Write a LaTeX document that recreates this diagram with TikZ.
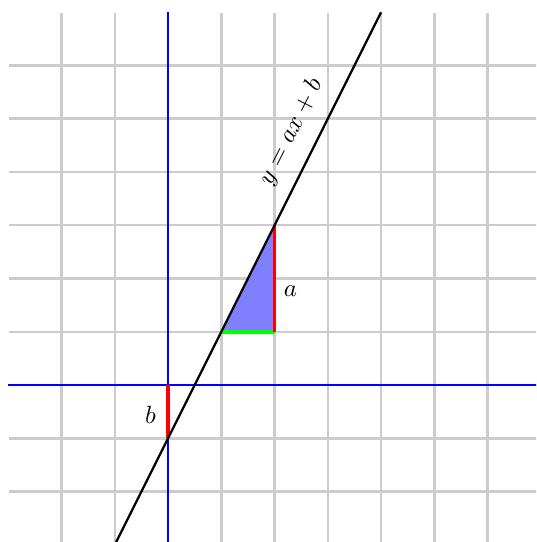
\documentclass[tikz,border=0pt]{standalone}
\begin{document}
\begin{tikzpicture}[x=0.75cm,y=0.75cm,
  gridline/.style={draw=gray!40,line width=1pt},
  axis/.style={draw=blue,line width=0.9pt},
  fn/.style={draw=black,line width=0.9pt},
  mark a/.style={draw=red,line width=1.5pt},
  mark run/.style={draw=green,line width=1.4pt}]
\useasboundingbox (-3.155,-2.948) rectangle (6.911,7.230);
\clip (-3.155,-2.948) rectangle (6.911,7.230);
\draw[gridline,step=0.75cm] (-2.99,-2.99) grid (6.99,6.99);
\coordinate (O) at (0,0);
\coordinate (B) at (0,-1);
\coordinate (P) at (1,1);
\coordinate (Q) at (2,1);
\coordinate (R) at (2,3);
\coordinate (L0) at (-1,-3);
\coordinate (L1) at (4,7);
\coordinate (XL) at (-3,0);
\coordinate (XR) at (7,0);
\coordinate (YB) at (0,-3);
\coordinate (YT) at (0,7);
\fill[blue!50] (P) -- (Q) -- (R) -- cycle;
\draw[axis] (XL) -- (XR);
\draw[axis] (YB) -- (YT);
\draw[mark run] (P) -- (Q);
\draw[mark a] (Q) -- (R);
\draw[mark a] (O) -- (B);
\draw[fn] (L0) -- (L1);
\node (la) at (2.3,1.76) {$a$};
\node (lb) at (-0.33,-0.56) {$b$};
\node[rotate=63.43] (lf) at (2.31,4.75) {$y=ax+b$};
\end{tikzpicture}
\end{document}
